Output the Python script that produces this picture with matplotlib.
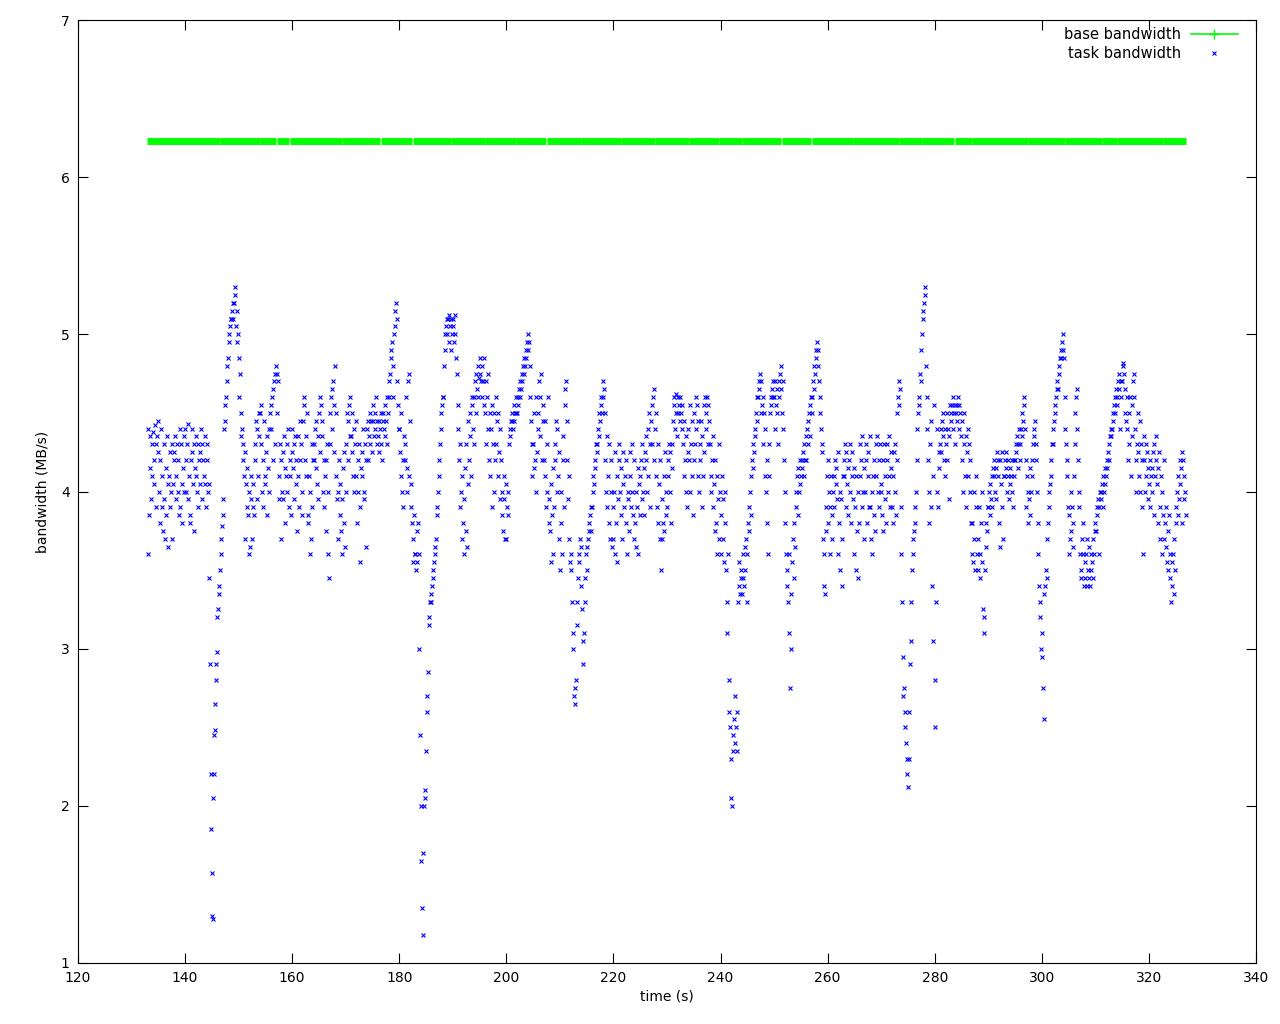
import matplotlib
matplotlib.use("Agg")
import matplotlib.pyplot as plt
from matplotlib.lines import Line2D

# ---- data ----
task_start_second = 133
# bandwidth samples (MB/s) for each second, starting at task_start_second
task_bw = [
    [3.6, 4.4, 3.85, 4.15, 4.35, 3.95, 4.3, 4.1],
    [4.38, 4.2, 4.05, 4.42, 4.3, 3.9, 4.35, 4.25],
    [4.45, 4.0, 4.2, 3.8, 4.4, 3.9, 4.1, 3.75],
    [3.95, 4.3, 3.7, 4.15, 3.85, 4.35, 4.05, 3.65],
    [4.1, 4.25, 3.9, 4.0, 4.3, 3.7, 4.05, 4.2],
    [4.25, 4.35, 4.1, 3.95, 4.3, 4.0, 4.2, 3.85],
    [3.9, 4.4, 4.3, 4.05, 3.8, 4.15, 4.35, 4.0],
    [4.4, 4.2, 4.0, 4.3, 3.95, 4.43, 4.1, 3.85],
    [3.8, 4.2, 4.4, 4.25, 4.05, 3.75, 4.3, 4.15],
    [4.35, 4.1, 4.0, 4.3, 3.9, 4.2, 4.25, 4.05],
    [4.4, 4.3, 3.95, 4.2, 4.1, 4.35, 4.05, 3.9],
    [4.2, 4.3, 4.0, 4.05, 3.45, 2.9, 2.2, 1.85],
    [1.57, 1.3, 1.28, 2.05, 2.2, 2.45, 2.48, 2.65, 2.8, 2.9, 2.98],
    [3.2, 3.25, 3.35, 3.4, 3.5, 3.6, 3.7, 3.78],
    [3.85, 3.95, 4.4, 4.45, 4.55, 4.6, 4.7, 4.8],
    [4.85, 4.95, 5.0, 5.05, 5.1, 5.1, 5.15, 5.2],
    [5.1, 5.2, 5.25, 5.3, 5.05, 5.15, 4.95, 5.0],
    [4.85, 4.6, 4.75, 4.5, 4.35, 4.4, 4.2, 4.3],
    [4.1, 4.25, 3.7, 4.05, 3.9, 4.15, 3.85, 4.0],
    [3.6, 3.65, 3.95, 4.1, 3.7, 3.9, 4.05, 3.85],
    [4.2, 4.3, 4.45, 3.95, 4.4, 4.1, 4.5, 4.35],
    [4.5, 4.3, 4.55, 4.0, 4.2, 3.9, 4.45, 4.1],
    [4.05, 4.25, 3.85, 4.35, 4.15, 4.4, 4.0, 4.5],
    [4.4, 4.55, 4.6, 4.2, 4.65, 4.7, 4.3, 4.75],
    [4.8, 4.75, 4.5, 4.7, 4.1, 3.95, 4.3, 4.2],
    [3.7, 4.0, 4.25, 3.95, 4.35, 3.8, 4.15, 4.1],
    [4.3, 4.0, 4.4, 3.9, 4.2, 4.1, 3.85, 4.25],
    [4.4, 4.15, 4.3, 3.95, 4.35, 4.05, 4.2, 3.75],
    [4.1, 4.35, 3.9, 4.45, 4.2, 4.3, 3.85, 4.0],
    [4.45, 4.6, 4.55, 4.2, 4.35, 4.1, 4.5, 3.8],
    [3.85, 4.1, 3.6, 4.0, 3.7, 4.3, 3.9, 4.2],
    [4.2, 4.3, 4.4, 4.45, 4.15, 4.05, 4.35, 3.95],
    [4.5, 4.6, 4.25, 4.55, 4.35, 4.45, 4.0, 4.2],
    [3.9, 4.1, 4.2, 3.75, 4.3, 4.0, 3.6, 3.45],
    [4.3, 4.5, 4.6, 4.4, 4.65, 4.7, 4.25, 4.55],
    [4.8, 4.5, 4.1, 3.95, 4.0, 3.7, 4.2, 3.85],
    [4.05, 3.75, 3.6, 3.95, 4.15, 3.8, 4.25, 3.65],
    [4.0, 4.3, 4.5, 4.2, 4.45, 4.55, 4.6, 4.35],
    [4.35, 4.25, 4.5, 4.1, 4.4, 4.0, 4.3, 4.45],
    [4.1, 3.8, 4.2, 4.0, 4.3, 3.9, 3.55, 4.15],
    [4.25, 4.1, 4.4, 4.0, 3.95, 4.3, 4.2, 3.65],
    [4.4, 4.45, 4.2, 4.35, 4.5, 4.3, 4.45, 4.25],
    [4.45, 4.55, 4.35, 4.5, 4.4, 4.6, 4.3, 4.45],
    [4.35, 4.45, 4.25, 4.4, 4.5, 4.3, 4.2, 4.45],
    [4.5, 4.4, 4.55, 4.35, 4.45, 4.6, 4.3, 4.5],
    [4.6, 4.7, 4.75, 4.85, 4.9, 4.95, 4.6, 4.8],
    [5.0, 5.05, 5.15, 5.2, 5.1, 4.7, 4.55, 4.4],
    [4.4, 4.25, 4.1, 4.5, 4.0, 4.2, 3.9, 4.35],
    [4.3, 4.2, 4.6, 4.0, 4.15, 4.7, 4.75, 4.1],
    [4.45, 3.9, 4.05, 3.8, 3.7, 3.55, 3.85, 3.6],
    [3.6, 3.5, 3.75, 3.55, 3.8, 3.6, 3.0, 2.45],
    [2.0, 1.65, 1.35, 1.18, 1.7, 2.0, 2.1, 2.05],
    [2.35, 2.6, 2.7, 2.85, 3.15, 3.2, 3.3, 3.35],
    [3.3, 3.4, 3.45, 3.5, 3.55, 3.6, 3.65, 3.7],
    [3.85, 3.9, 4.0, 4.1, 4.2, 4.3, 4.4, 4.5],
    [4.55, 4.6, 4.6, 4.8, 4.9, 5.0, 5.05, 5.1],
    [5.0, 5.1, 5.12, 4.95, 5.05, 5.1, 4.9, 5.0],
    [5.05, 5.1, 4.95, 5.12, 5.0, 4.85, 4.75, 4.55],
    [4.4, 4.2, 3.9, 4.3, 4.0, 3.7, 4.1, 3.8],
    [3.6, 3.95, 4.15, 3.75, 4.3, 3.65, 4.05, 4.45],
    [4.2, 4.35, 4.5, 4.1, 4.55, 4.6, 4.4, 4.3],
    [4.6, 4.7, 4.5, 4.75, 4.65, 4.8, 4.6, 4.72],
    [4.75, 4.85, 4.7, 4.8, 4.6, 4.7, 4.85, 4.55],
    [4.5, 4.7, 4.3, 4.6, 4.4, 4.75, 4.2, 4.5],
    [4.1, 4.4, 3.9, 4.55, 4.3, 4.0, 4.5, 4.2],
    [4.3, 4.6, 4.45, 4.1, 4.5, 4.25, 3.95, 4.4],
    [4.2, 3.85, 4.0, 3.75, 4.1, 3.95, 3.7, 4.05],
    [3.7, 3.9, 3.85, 4.0, 4.3, 4.35, 4.4, 4.45],
    [4.45, 4.5, 4.4, 4.55, 4.45, 4.5, 4.6, 4.5],
    [4.5, 4.6, 4.55, 4.65, 4.6, 4.7, 4.65, 4.75],
    [4.7, 4.8, 4.75, 4.85, 4.8, 4.9, 4.85, 4.95],
    [4.9, 5.0, 4.95, 4.8, 4.6, 4.45, 4.3, 4.1],
    [4.3, 4.15, 4.5, 4.2, 4.6, 4.0, 4.25, 4.4],
    [4.5, 4.7, 4.6, 4.35, 4.75, 4.2, 4.45, 4.55],
    [4.2, 4.1, 4.45, 3.9, 4.3, 4.0, 4.6, 3.8],
    [3.95, 3.75, 4.05, 3.55, 3.85, 4.15, 3.6, 3.9],
    [4.3, 4.2, 4.45, 4.0, 4.4, 4.1, 3.7, 4.25],
    [3.5, 3.8, 4.0, 3.6, 4.2, 4.35, 3.9, 4.55],
    [4.65, 4.7, 4.45, 4.2, 3.95, 3.7, 4.1, 3.55],
    [3.6, 3.5, 3.3, 3.1, 3.0, 2.7, 2.65, 2.75],
    [2.8, 3.15, 3.3, 3.45, 3.6, 3.55, 3.7, 3.65],
    [3.4, 3.25, 3.05, 2.9, 3.1, 3.3, 3.45, 3.6],
    [3.5, 3.65, 3.7, 3.75, 3.8, 3.85, 3.75, 3.9],
    [3.9, 4.0, 4.1, 4.05, 4.2, 4.15, 4.3, 4.25],
    [4.3, 4.4, 4.35, 4.5, 4.45, 4.55, 4.6, 4.5],
    [4.6, 4.7, 4.65, 4.5, 4.2, 4.0, 4.35, 3.9],
    [4.1, 3.8, 4.3, 3.7, 4.0, 4.2, 3.65, 3.9],
    [3.7, 4.0, 3.6, 4.25, 3.8, 4.1, 3.55, 3.95],
    [4.2, 4.3, 4.0, 3.85, 4.15, 3.7, 4.25, 4.05],
    [3.9, 4.1, 3.8, 4.2, 3.6, 3.95, 4.0, 3.75],
    [4.1, 4.25, 3.9, 4.3, 4.0, 3.85, 4.2, 3.7],
    [3.8, 3.65, 4.0, 3.9, 4.15, 3.6, 4.05, 3.85],
    [4.1, 4.2, 3.95, 4.3, 4.0, 4.15, 3.85, 4.25],
    [4.2, 4.35, 4.0, 4.4, 4.1, 4.5, 3.9, 4.3],
    [4.45, 4.55, 4.3, 4.6, 4.65, 4.2, 4.4, 4.5],
    [4.1, 3.9, 4.3, 3.8, 4.05, 3.7, 4.2, 3.5],
    [3.7, 3.95, 3.8, 4.1, 3.75, 4.25, 3.85, 4.0],
    [3.9, 4.2, 4.1, 4.3, 4.0, 4.25, 3.8, 4.15],
    [4.3, 4.45, 4.6, 4.55, 4.4, 4.62, 4.5, 4.35],
    [4.5, 4.6, 4.55, 4.45, 4.6, 4.5, 4.4, 4.55],
    [4.3, 4.1, 4.45, 4.2, 4.0, 4.35, 3.9, 4.25],
    [4.4, 4.2, 4.55, 4.0, 4.3, 4.1, 4.45, 3.85],
    [4.2, 4.5, 4.3, 4.6, 4.4, 4.55, 4.1, 4.45],
    [4.0, 4.3, 4.2, 4.45, 3.9, 4.35, 4.1, 4.25],
    [4.55, 4.6, 4.5, 4.4, 4.6, 4.55, 4.3, 4.45],
    [4.3, 4.1, 4.0, 4.2, 3.9, 4.35, 4.05, 3.75],
    [4.2, 3.8, 4.1, 3.6, 3.95, 4.3, 3.7, 4.0],
    [3.85, 3.6, 4.1, 3.7, 3.95, 3.55, 4.0, 3.8],
    [3.5, 3.3, 3.1, 3.6, 2.8, 2.6, 2.5, 2.3],
    [2.05, 2.0, 2.35, 2.45, 2.55, 2.7, 2.4, 2.5],
    [2.6, 2.35, 3.3, 3.4, 3.55, 3.35, 3.45, 3.5],
    [3.35, 3.45, 3.6, 3.4, 3.65, 3.5, 3.7, 3.3],
    [3.6, 3.8, 3.9, 3.75, 4.0, 4.1, 3.85, 4.2],
    [4.15, 4.3, 4.25, 4.4, 4.35, 4.5, 4.45, 4.6],
    [4.6, 4.7, 4.65, 4.75, 4.5, 4.7, 4.55, 4.6],
    [4.3, 4.5, 4.1, 4.4, 4.0, 3.8, 4.2, 3.6],
    [4.1, 4.3, 4.5, 4.55, 4.6, 4.65, 4.7, 4.6],
    [4.6, 4.7, 4.4, 4.55, 4.65, 4.5, 4.3, 4.7],
    [4.6, 4.75, 4.8, 4.65, 4.5, 4.7, 4.4, 4.2],
    [4.0, 3.8, 3.6, 3.5, 3.4, 3.3, 3.6, 3.1],
    [2.75, 3.0, 3.35, 3.55, 3.7, 3.45, 3.8, 3.65],
    [3.9, 4.0, 4.1, 3.85, 4.15, 4.0, 4.2, 4.05],
    [4.1, 4.2, 4.15, 4.25, 4.1, 4.3, 4.2, 4.35],
    [4.2, 4.4, 4.3, 4.45, 4.5, 4.35, 4.55, 4.6],
    [4.5, 4.6, 4.7, 4.65, 4.8, 4.75, 4.85, 4.9],
    [4.95, 4.9, 4.8, 4.7, 4.6, 4.5, 4.4, 4.3],
    [4.25, 3.7, 3.6, 3.4, 3.35, 3.9, 3.75, 4.1],
    [4.2, 3.8, 4.0, 3.6, 3.9, 4.1, 3.7, 3.85],
    [4.0, 4.1, 3.9, 4.2, 4.05, 4.15, 3.95, 4.25],
    [3.6, 3.8, 4.0, 3.5, 3.95, 3.7, 3.4, 4.1],
    [4.2, 4.1, 4.3, 3.9, 4.25, 4.05, 4.15, 3.85],
    [4.2, 4.0, 4.3, 3.8, 4.1, 4.25, 3.95, 4.15],
    [3.6, 3.9, 3.5, 4.1, 3.75, 3.45, 4.0, 3.8],
    [4.1, 4.3, 4.2, 3.9, 4.35, 4.0, 4.15, 3.7],
    [4.0, 4.2, 4.3, 3.8, 4.1, 4.25, 3.9, 4.35],
    [3.9, 3.7, 4.0, 3.6, 4.1, 3.85, 4.2, 3.75],
    [4.3, 4.1, 4.35, 4.0, 4.2, 3.9, 4.3, 4.05],
    [4.0, 3.85, 4.2, 3.75, 4.3, 3.95, 4.1, 3.8],
    [4.2, 4.3, 4.0, 4.35, 4.1, 3.9, 4.25, 4.15],
    [3.9, 4.1, 3.8, 4.25, 4.0, 4.3, 3.85, 4.2],
    [4.5, 4.6, 4.7, 4.55, 4.65, 3.9, 3.6, 3.3],
    [2.95, 2.7, 2.75, 2.5, 2.6, 2.4, 2.3, 2.2],
    [2.12, 2.3, 2.6, 2.9, 3.05, 3.3, 3.5, 3.6],
    [3.7, 3.75, 3.9, 3.8, 4.0, 4.2, 4.4, 4.5],
    [4.55, 4.6, 4.75, 4.7, 4.9, 5.0, 5.1, 5.15],
    [5.2, 5.25, 5.3, 4.8, 4.6, 4.4, 4.2, 4.0],
    [3.8, 4.3, 3.9, 4.45, 3.4, 4.1, 3.05, 4.55],
    [2.8, 2.5, 3.3, 4.0, 4.4, 3.9, 4.25, 4.15],
    [4.3, 4.4, 4.25, 4.45, 4.35, 4.5, 4.2, 4.4],
    [4.1, 4.3, 4.5, 4.2, 4.4, 3.95, 4.35, 4.55],
    [4.45, 4.5, 4.55, 4.4, 4.6, 4.5, 4.3, 4.55],
    [4.5, 4.55, 4.45, 4.6, 4.4, 4.55, 4.5, 4.35],
    [4.2, 4.45, 4.0, 4.3, 4.5, 4.1, 4.35, 3.9],
    [4.25, 4.4, 4.1, 4.3, 4.0, 4.2, 3.8, 3.6],
    [3.8, 3.55, 4.0, 3.7, 3.5, 3.9, 4.1, 3.6],
    [3.7, 3.5, 3.9, 3.6, 3.45, 3.8, 3.55, 4.0],
    [3.25, 3.1, 3.2, 3.5, 3.65, 3.8, 3.75, 3.9],
    [3.9, 4.0, 3.85, 4.05, 3.95, 4.1, 3.9, 4.15],
    [4.1, 4.2, 4.0, 4.15, 3.95, 4.25, 4.1, 4.2],
    [3.8, 4.2, 3.65, 4.05, 3.9, 4.25, 3.7, 4.1],
    [4.1, 4.2, 4.15, 4.25, 4.0, 4.2, 4.1, 3.95],
    [4.05, 4.15, 4.1, 4.2, 4.0, 3.9, 4.1, 4.2],
    [4.2, 4.3, 4.25, 4.35, 4.15, 4.3, 4.4, 4.2],
    [4.3, 4.4, 4.35, 4.5, 4.45, 4.55, 4.6, 4.4],
    [4.2, 3.9, 4.1, 3.8, 4.0, 3.95, 4.15, 3.85],
    [4.0, 4.1, 4.2, 4.3, 4.35, 4.4, 4.45, 4.3],
    [4.2, 4.0, 3.6, 3.8, 3.4, 3.3, 3.2, 3.0],
    [3.1, 2.95, 2.75, 2.55, 3.35, 3.4, 3.5, 3.45],
    [3.7, 3.8, 3.9, 4.0, 4.05, 4.2, 4.1, 4.3],
    [4.3, 4.4, 4.45, 4.5, 4.55, 4.6, 4.65, 4.7],
    [4.65, 4.75, 4.8, 4.85, 4.9, 4.85, 4.95, 5.0],
    [4.9, 4.85, 4.6, 4.4, 4.3, 4.1, 4.2, 3.9],
    [3.6, 3.85, 3.7, 4.0, 3.75, 3.9, 3.65, 3.8],
    [4.1, 4.3, 4.5, 4.6, 4.65, 4.4, 4.2, 4.0],
    [3.9, 3.6, 3.5, 3.45, 3.7, 3.8, 3.6, 3.4],
    [3.55, 3.45, 3.6, 3.4, 3.7, 3.5, 3.65, 3.45],
    [3.4, 3.6, 3.5, 3.55, 3.45, 3.7, 3.6, 3.75],
    [3.8, 3.75, 3.9, 3.85, 3.95, 3.6, 3.9, 4.0],
    [3.95, 4.0, 4.05, 3.9, 4.1, 4.0, 4.15, 4.05],
    [4.1, 4.2, 4.15, 4.25, 4.3, 4.2, 4.35, 4.4],
    [4.35, 4.4, 4.5, 4.45, 4.55, 4.6, 4.5, 4.65],
    [4.55, 4.6, 4.7, 4.65, 4.75, 4.4, 4.6, 4.7],
    [4.7, 4.8, 4.82, 4.75, 4.5, 4.65, 4.45, 4.6],
    [4.4, 4.2, 4.5, 4.3, 4.6, 4.1, 4.35, 4.55],
    [4.7, 4.75, 4.6, 4.4, 4.2, 4.0, 4.3, 4.5],
    [4.25, 4.1, 4.45, 4.0, 4.3, 3.9, 4.2, 3.6],
    [4.2, 4.35, 4.0, 4.3, 4.1, 4.25, 3.95, 4.15],
    [4.05, 4.2, 3.9, 4.1, 4.15, 4.0, 4.25, 3.85],
    [4.3, 4.1, 4.2, 4.35, 4.05, 3.8, 4.15, 4.25],
    [3.7, 3.9, 4.1, 3.6, 4.0, 3.85, 3.7, 4.2],
    [3.8, 3.65, 3.9, 3.55, 3.75, 3.5, 3.85, 3.6],
    [3.45, 3.3, 3.55, 3.4, 3.6, 3.35, 3.7, 3.5],
    [3.8, 3.9, 4.0, 3.85, 4.1, 3.95, 4.2, 4.05],
    [4.15, 4.25, 3.8, 4.2, 3.95, 4.1, 4.0, 3.85],
]

base_bw = 6.23
# recorded stretches of the base bandwidth series (s); tiny gaps between them
base_segments = [
    (132.8, 146.57), (146.6, 153.97), (154.0, 157.07), (157.1, 159.47),
    (159.5, 169.27), (169.3, 176.47), (176.5, 182.47), (182.5, 189.67),
    (189.7, 195.97), (196.0, 201.77), (201.8, 207.47), (207.5, 213.97),
    (214.0, 221.47), (221.5, 227.67), (227.7, 234.07), (234.1, 239.67),
    (239.7, 244.07), (244.1, 251.37), (251.4, 256.97), (257.0, 264.67),
    (264.7, 273.27), (273.3, 277.57), (277.6, 283.67), (283.7, 286.97),
    (287.0, 297.47), (297.5, 304.37), (304.4, 311.27), (311.3, 313.97),
    (314.0, 322.67), (322.7, 327.0),
]

xticks = [120, 140, 160, 180, 200, 220, 240, 260, 280, 300, 320, 340]
yticks = [1, 2, 3, 4, 5, 6, 7]

# ---- build task series ----
task_t, task_v = [], []
for i, vals in enumerate(task_bw):
    n = len(vals)
    for k, v in enumerate(vals):
        task_t.append(task_start_second + i + k / n)
        task_v.append(v)

plt.rcParams['font.family'] = ['DejaVu Sans']
fig = plt.figure(figsize=(12.8, 10.24), dpi=100)
ax = fig.add_axes([78 / 1280, 1 - 963 / 1024, (1256 - 78) / 1280, (963 - 20) / 1024])

green = '#00ff00'
for a, b in base_segments:
    ax.plot([a, b], [base_bw, base_bw], color=green, lw=5.0,
            solid_capstyle='butt', zorder=2)

ax.plot(task_t, task_v, linestyle='none', marker='x', ms=3.0, mew=0.8,
        color='#0000ff', zorder=3)

ax.set_xlim(120, 340)
ax.set_ylim(1, 7)
ax.set_xticks(xticks)
ax.set_yticks(yticks)
ax.tick_params(direction='in', length=7, top=True, right=True,
               labelsize=10, width=0.8, pad=6)
for s in ax.spines.values():
    s.set_linewidth(0.8)
ax.set_xlabel('time (s)', fontsize=10, labelpad=3)
ax.set_ylabel('bandwidth (MB/s)', fontsize=10, labelpad=8)

handles = [
    Line2D([], [], color=green, lw=1.2, marker='+', ms=7, mew=1),
    Line2D([], [], color='#0000ff', linestyle='none', marker='x', ms=3.0, mew=0.8),
]
ax.legend(handles, ['base bandwidth', 'task bandwidth'], loc='upper right',
          bbox_to_anchor=(0.9907, 1.0),
          frameon=False, markerfirst=False, fontsize=10.5, handlelength=3.2,
          labelspacing=0.25, borderaxespad=0.3, handletextpad=0.7,
          borderpad=0.2)

fig.savefig('out.png', dpi=100)
